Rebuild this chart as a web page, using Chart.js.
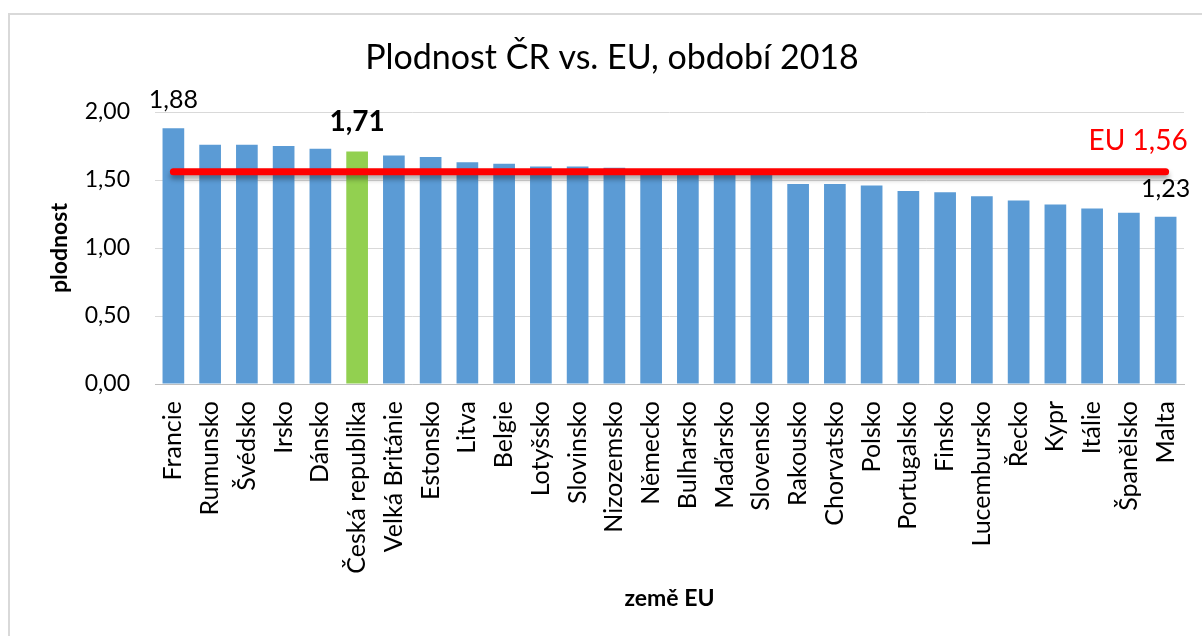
<!DOCTYPE html>
<html>
<head>
<meta charset="utf-8">
<script src="https://cdn.jsdelivr.net/npm/chart.js@4.4.1/dist/chart.umd.min.js"></script>
<style>
  html, body { margin: 0; padding: 0; background: #fff; }
  #wrap { position: relative; width: 1202px; height: 636px; }
  #frame { position: absolute; left: 8px; top: 13px; right: -10px; bottom: -10px;
           border-left: 2px solid #d9d9d9; border-top: 2px solid #d9d9d9; }
  canvas { position: absolute; left: 0; top: 0; }
</style>
</head>
<body>
<div id="wrap">
  <div id="frame"></div>
  <canvas id="plodnostChart" width="1202" height="636"></canvas>
</div>
<script>
/* global Chart:false */
'use strict'

// zeme EU, serazeno podle plodnosti (2018)
var countries = ['Francie', 'Rumunsko', 'Švédsko', 'Irsko', 'Dánsko', 'Česká republika',
  'Velká Británie', 'Estonsko', 'Litva', 'Belgie', 'Lotyšsko', 'Slovinsko', 'Nizozemsko',
  'Německo', 'Bulharsko', 'Maďarsko', 'Slovensko', 'Rakousko', 'Chorvatsko', 'Polsko',
  'Portugalsko', 'Finsko', 'Lucembursko', 'Řecko', 'Kypr', 'Itálie', 'Španělsko', 'Malta']
var fertility = [1.88, 1.76, 1.76, 1.75, 1.73, 1.71, 1.68, 1.67, 1.63, 1.62, 1.60, 1.60, 1.59,
  1.57, 1.56, 1.55, 1.54, 1.47, 1.47, 1.46, 1.42, 1.41, 1.38, 1.35, 1.32, 1.29, 1.26, 1.23]
var euAverage = 1.56
var highlightCountry = 'Česká republika'
var yTicks = [0, 0.5, 1, 1.5, 2]
var chartTitle = 'Plodnost ČR vs. EU, období 2018'

var FONT = 'Lato, "Noto Sans", sans-serif'
var fmt = function (v) { return v.toFixed(2).replace('.', ',') }

var barColors = countries.map(function (c) {
  return c === highlightCountry ? '#92d050' : '#5b9bd5'
})

// title (drawn by hand, Excel centres it on the whole frame, not the chart box)
var titlePlugin = {
  id: 'frameTitle',
  afterDraw: function (chart) {
    var ctx = chart.ctx
    ctx.save()
    ctx.textAlign = 'center'
    ctx.textBaseline = 'middle'
    ctx.fillStyle = '#000'
    ctx.font = '34px ' + FONT
    ctx.fillText(chartTitle, 612, 58)
    ctx.restore()
  }
}

// value labels above selected bars + EU label at the end of the line
var labelPlugin = {
  id: 'labels',
  afterDatasetsDraw: function (chart) {
    var ctx = chart.ctx
    var bars = chart.getDatasetMeta(1).data
    var line = chart.getDatasetMeta(0).data
    ctx.save()
    ctx.textAlign = 'center'
    ctx.textBaseline = 'middle'
    ctx.fillStyle = '#000'
    var first = bars[0]
    ctx.font = '25px ' + FONT
    ctx.fillText(fmt(fertility[0]), first.x, first.y - 28)
    var last = bars[bars.length - 1]
    ctx.fillText(fmt(fertility[fertility.length - 1]), last.x, last.y - 28)
    var hi = countries.indexOf(highlightCountry)
    ctx.font = 'bold 28px ' + FONT
    ctx.fillText(fmt(fertility[hi]), bars[hi].x, bars[hi].y - 29)
    var end = line[line.length - 1]
    ctx.textAlign = 'right'
    ctx.fillStyle = '#ff0000'
    ctx.font = '28px ' + FONT
    ctx.fillText('EU ' + fmt(euAverage), end.x + 22, end.y - 31)
    ctx.restore()
  }
}

// soft shadow under the EU line
var shadowPlugin = {
  id: 'lineShadow',
  beforeDatasetDraw: function (chart, args) {
    if (args.index !== 0) return
    var ctx = chart.ctx
    ctx.save()
    ctx.shadowColor = 'rgba(0,0,0,0.35)'
    ctx.shadowBlur = 5
    ctx.shadowOffsetY = 4
  },
  afterDatasetDraw: function (chart, args) {
    if (args.index !== 0) return
    chart.ctx.restore()
  }
}

var ctx = document.getElementById('plodnostChart').getContext('2d')
var chart = new Chart(ctx, {
  data: {
    labels: countries,
    datasets: [
      {
        type: 'line',
        label: 'EU',
        data: countries.map(function () { return euAverage }),
        borderColor: '#ff0000',
        borderWidth: 7,
        borderCapStyle: 'round',
        pointRadius: 0,
        fill: false,
        order: 0
      },
      {
        type: 'bar',
        label: 'plodnost',
        data: fertility,
        backgroundColor: barColors,
        categoryPercentage: 1,
        barPercentage: 0.59,
        order: 1
      }
    ]
  },
  options: {
    responsive: false,
    animation: false,
    layout: { padding: { left: 0, right: 18, top: 112, bottom: 0 } },
    plugins: {
      legend: { display: false },
      tooltip: { enabled: false },
      title: { display: false }
    },
    scales: {
      x: {
        grid: { display: false, drawTicks: false },
        border: { display: true, color: '#bfbfbf', width: 1 },
        ticks: {
          color: '#000',
          font: { family: FONT, size: 25 },
          maxRotation: 90,
          minRotation: 90,
          autoSkip: false,
          padding: 17
        },
        title: {
          display: true,
          text: 'země EU',
          color: '#000',
          font: { family: FONT, size: 23, weight: 'bold' },
          padding: { top: 0, bottom: 24 }
        },
        afterFit: function (scale) {
          scale.height = 252
          scale.paddingLeft = 0
          scale.paddingRight = 0
        }
      },
      y: {
        min: 0,
        max: 2,
        afterBuildTicks: function (scale) {
          scale.ticks = yTicks.map(function (v) { return { value: v } })
        },
        grid: { color: '#d9d9d9', lineWidth: 1, drawTicks: false },
        border: { display: false },
        ticks: {
          color: '#000',
          font: { family: FONT, size: 23 },
          padding: 25,
          callback: function (v) { return fmt(v) }
        },
        title: {
          display: true,
          text: 'plodnost',
          color: '#000',
          font: { family: FONT, size: 23, weight: 'bold' },
          padding: { top: 46, bottom: 0 }
        },
        afterFit: function (scale) { scale.width = 155 }
      }
    }
  },
  plugins: [shadowPlugin, labelPlugin, titlePlugin]
})
</script>
</body>
</html>
